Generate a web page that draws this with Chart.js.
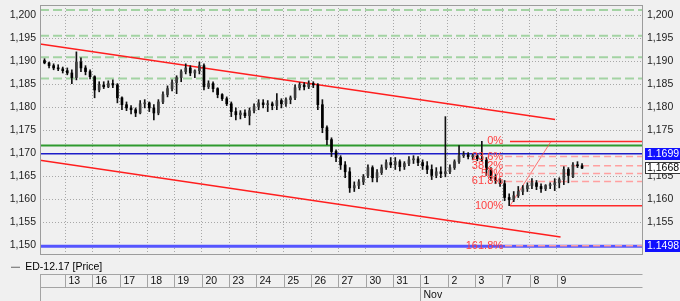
<!DOCTYPE html>
<html>
<head>
<meta charset="utf-8">
<script src="https://cdn.jsdelivr.net/npm/chart.js@4.4.0/dist/chart.umd.min.js"></script>
<style>
  html, body { margin: 0; padding: 0; background: #f0f0f0; }
</style>
</head>
<body>
<canvas id="chart" width="680" height="301"></canvas>
<script>
// day cells of the time table (first cell is the partial day before the 13th)
const dayLabels = ["13", "16", "17", "18", "19", "20", "23", "24", "25", "26", "27", "30", "31", "1", "2", "3", "7", "8", "9"];
const monthLabels = ["Nov"];
const monthStarts = [13];
const yTicks = [1.150, 1.155, 1.160, 1.165, 1.170, 1.175, 1.180, 1.185, 1.190, 1.195, 1.200];
const seriesName = "ED-12.17 [Price]";

// 4h bars, 6 per day, the first 5 belong to the day before the 13th
const barsPerDay = 6;
const opens = [
  1.1902, 1.1897, 1.1891, 1.1886, 1.1884,
  1.1880, 1.1875, 1.1865, 1.1899, 1.1886, 1.1878,
  1.1867, 1.1838, 1.1849, 1.1845, 1.1852, 1.1849,
  1.1821, 1.1806, 1.1799, 1.1795, 1.1788, 1.1808,
  1.1810, 1.1799, 1.1788, 1.1812, 1.1828, 1.1841,
  1.1854, 1.1865, 1.1878, 1.1886, 1.1875, 1.1880,
  1.1891, 1.1845, 1.1852, 1.1841, 1.1828, 1.1819,
  1.1808, 1.1791, 1.1784, 1.1788, 1.1782, 1.1793,
  1.1802, 1.1810, 1.1806, 1.1808, 1.1804, 1.1815,
  1.1808, 1.1817, 1.1821, 1.1843, 1.1849, 1.1845,
  1.1852, 1.1849, 1.1806, 1.1756, 1.1730, 1.1704,
  1.1691, 1.1675, 1.1660, 1.1625, 1.1630, 1.1638,
  1.1652, 1.1669, 1.1647, 1.1658, 1.1669, 1.1680,
  1.1675, 1.1682, 1.1671, 1.1678, 1.1686, 1.1688,
  1.1680, 1.1673, 1.1665, 1.1652, 1.1660, 1.1656,
  1.1660, 1.1669, 1.1682, 1.1695, 1.1697, 1.1693,
  1.1695, 1.1688, 1.1686, 1.1665, 1.1647, 1.1641,
  1.1634, 1.1604, 1.1599, 1.1608, 1.1617, 1.1623,
  1.1630, 1.1636, 1.1628, 1.1623, 1.1630, 1.1632,
  1.1636, 1.1643, 1.1665, 1.1652, 1.1675, 1.1673
];
const highs = [
  1.1906, 1.1899, 1.1895, 1.1893, 1.1888,
  1.1886, 1.1882, 1.1921, 1.1908, 1.1891, 1.1882,
  1.1869, 1.1856, 1.1856, 1.1858, 1.1860, 1.1852,
  1.1823, 1.1812, 1.1804, 1.1799, 1.1815, 1.1817,
  1.1812, 1.1806, 1.1817, 1.1834, 1.1847, 1.1860,
  1.1869, 1.1882, 1.1895, 1.1891, 1.1882, 1.1899,
  1.1895, 1.1858, 1.1856, 1.1843, 1.1830, 1.1823,
  1.1812, 1.1799, 1.1793, 1.1795, 1.1799, 1.1808,
  1.1817, 1.1817, 1.1815, 1.1812, 1.1830, 1.1819,
  1.1821, 1.1825, 1.1849, 1.1854, 1.1854, 1.1858,
  1.1856, 1.1852, 1.1817, 1.1760, 1.1734, 1.1708,
  1.1695, 1.1682, 1.1669, 1.1638, 1.1643, 1.1654,
  1.1675, 1.1673, 1.1665, 1.1675, 1.1686, 1.1691,
  1.1691, 1.1686, 1.1682, 1.1693, 1.1695, 1.1693,
  1.1686, 1.1682, 1.1675, 1.1669, 1.1671, 1.1780,
  1.1675, 1.1686, 1.1717, 1.1704, 1.1702, 1.1699,
  1.1697, 1.1726, 1.1691, 1.1669, 1.1654, 1.1645,
  1.1641, 1.1612, 1.1617, 1.1628, 1.1630, 1.1636,
  1.1645, 1.1641, 1.1634, 1.1632, 1.1636, 1.1645,
  1.1647, 1.1671, 1.1669, 1.1680, 1.1682, 1.1678
];
const lows = [
  1.1895, 1.1886, 1.1882, 1.1880, 1.1875,
  1.1871, 1.1852, 1.1860, 1.1878, 1.1871, 1.1862,
  1.1821, 1.1834, 1.1841, 1.1843, 1.1843, 1.1810,
  1.1795, 1.1793, 1.1786, 1.1780, 1.1786, 1.1799,
  1.1791, 1.1773, 1.1784, 1.1808, 1.1823, 1.1836,
  1.1830, 1.1856, 1.1873, 1.1869, 1.1865, 1.1873,
  1.1838, 1.1841, 1.1834, 1.1821, 1.1815, 1.1804,
  1.1780, 1.1773, 1.1775, 1.1778, 1.1762, 1.1788,
  1.1795, 1.1799, 1.1791, 1.1795, 1.1795, 1.1799,
  1.1802, 1.1808, 1.1817, 1.1838, 1.1838, 1.1841,
  1.1843, 1.1795, 1.1745, 1.1719, 1.1693, 1.1682,
  1.1665, 1.1647, 1.1615, 1.1617, 1.1623, 1.1632,
  1.1647, 1.1638, 1.1638, 1.1654, 1.1665, 1.1669,
  1.1665, 1.1662, 1.1665, 1.1673, 1.1678, 1.1673,
  1.1665, 1.1656, 1.1643, 1.1647, 1.1647, 1.1649,
  1.1656, 1.1665, 1.1678, 1.1691, 1.1688, 1.1686,
  1.1684, 1.1682, 1.1652, 1.1641, 1.1634, 1.1628,
  1.1597, 1.1586, 1.1595, 1.1604, 1.1610, 1.1617,
  1.1623, 1.1621, 1.1615, 1.1619, 1.1623, 1.1619,
  1.1625, 1.1632, 1.1636, 1.1647, 1.1669, 1.1667
];
const closes = [
  1.1897, 1.1891, 1.1886, 1.1884, 1.1880,
  1.1875, 1.1865, 1.1899, 1.1886, 1.1878, 1.1867,
  1.1838, 1.1849, 1.1845, 1.1852, 1.1849, 1.1821,
  1.1806, 1.1799, 1.1795, 1.1788, 1.1808, 1.1810,
  1.1799, 1.1788, 1.1812, 1.1828, 1.1841, 1.1854,
  1.1865, 1.1878, 1.1886, 1.1875, 1.1880, 1.1891,
  1.1845, 1.1852, 1.1841, 1.1828, 1.1819, 1.1808,
  1.1791, 1.1784, 1.1788, 1.1782, 1.1793, 1.1802,
  1.1810, 1.1806, 1.1808, 1.1804, 1.1815, 1.1808,
  1.1817, 1.1821, 1.1843, 1.1849, 1.1845, 1.1852,
  1.1849, 1.1806, 1.1756, 1.1730, 1.1704, 1.1691,
  1.1675, 1.1660, 1.1625, 1.1630, 1.1638, 1.1649,
  1.1669, 1.1647, 1.1658, 1.1669, 1.1680, 1.1675,
  1.1682, 1.1671, 1.1678, 1.1686, 1.1688, 1.1680,
  1.1673, 1.1665, 1.1652, 1.1660, 1.1656, 1.1660,
  1.1669, 1.1682, 1.1695, 1.1697, 1.1693, 1.1695,
  1.1688, 1.1686, 1.1665, 1.1647, 1.1641, 1.1634,
  1.1604, 1.1599, 1.1608, 1.1617, 1.1623, 1.1630,
  1.1636, 1.1628, 1.1623, 1.1630, 1.1632, 1.1636,
  1.1643, 1.1665, 1.1652, 1.1675, 1.1673, 1.1668
];

// drawn levels and tools (x in day units, 0 = start of the 13th)
const greenDashedLevels = [1.2012, 1.1956, 1.1909, 1.1863];
const greenLevel = 1.1717;
const blueLevels = [1.1699, 1.1498];
const lastPrice = 1.1668;
const upperTrend = [[-0.915, 1.1938], [17.93, 1.1774]];
const lowerTrend = [[-0.915, 1.1685], [18.13, 1.1518]];
const fibNames = ["0%", "23.6%", "38.2%", "50%", "61.8%", "100%", "161.8%"];
const fibValues = [1.1726, 1.1693, 1.1673, 1.1656, 1.1639, 1.1586, 1.1499];
const fibFrom = 16.1;
const fibAnchor = [[16.28, 1.1586], [17.78, 1.1726]];

const xMin = -0.915, xMax = 21.11;
const yMin = 1.1481, yMax = 1.2023;

const FONT = '"Liberation Sans", Arial, sans-serif';
const fmt = v => v.toFixed(3).replace(".", ",");

const barX = closes.map((_, i) => (i + 1.5) / barsPerDay - 1);

function segment(points, color, width, dash, order) {
  return {
    type: "line",
    data: points.map(p => ({ x: p[0], y: p[1] })),
    borderColor: color,
    borderWidth: width,
    borderDash: dash || [],
    pointRadius: 0,
    fill: false,
    tension: 0,
    order: order
  };
}

const datasets = [
  {
    type: "bar",
    label: seriesName,
    data: barX.map((x, i) => ({ x: x, y: [opens[i], closes[i]] })),
    backgroundColor: closes.map((c, i) => (c >= opens[i] ? "#3c3c3c" : "#000000")),
    barThickness: 2,
    minBarLength: 1,
    grouped: false,
    order: 0
  },
  {
    type: "bar",
    label: "wick",
    data: barX.map((x, i) => ({ x: x, y: [lows[i], highs[i]] })),
    backgroundColor: "#111111",
    barThickness: 1,
    grouped: false,
    order: 1
  }
];

greenDashedLevels.forEach(v => datasets.push(segment([[xMin, v], [xMax, v]], "#a3d3a3", 2, [9, 4], 8)));
datasets.push(segment([[xMin, greenLevel], [xMax, greenLevel]], "#2f9a2f", 2, null, 6));
datasets.push(segment([[xMin, blueLevels[0]], [xMax, blueLevels[0]]], "#1c1cc8", 1.5, null, 6));
datasets.push(segment([[xMin, blueLevels[1]], [xMax, blueLevels[1]]], "#5555ff", 3, null, 6));
datasets.push(segment(upperTrend, "#ff1e1e", 1.5, null, 5));
datasets.push(segment(lowerTrend, "#ff1e1e", 1.5, null, 5));
fibValues.forEach((v, i) => {
  const solid = fibNames[i] === "0%" || fibNames[i] === "100%";
  if (solid) {
    datasets.push(segment([[fibAnchor[0][0], v], [xMax, v]], "#ff2a2a", 1.5, null, 4));
  } else {
    datasets.push(segment([[fibFrom, v], [xMax, v]], "#ffa0a0", 1.5, [7, 4], 4));
  }
});
datasets.push(segment(fibAnchor, "rgba(255,70,70,0.75)", 1, null, 4));

// frame, fibonacci labels, price tags and the date table
const overlay = {
  id: "overlay",
  afterDraw(chart) {
    const { ctx, chartArea: a, scales } = chart;
    const x = scales.x, y = scales.y;
    ctx.save();

    ctx.strokeStyle = "#9c9c9c";
    ctx.lineWidth = 1;
    ctx.strokeRect(Math.round(a.left) + 0.5, Math.round(a.top) + 0.5,
      Math.round(a.right - a.left), Math.round(a.bottom - a.top));

    ctx.font = "11px " + FONT;
    ctx.textBaseline = "middle";
    ctx.textAlign = "right";
    ctx.fillStyle = "#ff4040";
    const lx = x.getPixelForValue(fibFrom) - 2;
    fibNames.forEach((n, i) => ctx.fillText(n, lx, y.getPixelForValue(fibValues[i])));

    ctx.font = "10.5px " + FONT;
    const tags = [
      { v: blueLevels[0], text: blueLevels[0].toFixed(4), bg: "#1010ff", fg: "#ffffff" },
      { v: lastPrice, text: lastPrice.toFixed(4).replace(".", ","), bg: "#ffffff", fg: "#000000", line: "#333333" },
      { v: blueLevels[1], text: blueLevels[1].toFixed(4), bg: "#1010ff", fg: "#ffffff" }
    ];
    ctx.textAlign = "left";
    tags.forEach(t => {
      const py = Math.round(y.getPixelForValue(t.v));
      const bx = Math.round(a.right) + 3;
      ctx.fillStyle = t.bg;
      ctx.fillRect(bx, py - 6, chart.width - bx, 12);
      if (t.line) {
        ctx.strokeStyle = t.line;
        ctx.strokeRect(bx + 0.5, py - 5.5, chart.width - bx, 11);
      }
      ctx.fillStyle = t.fg;
      ctx.fillText(t.text, bx + 2, py + 0.5);
    });

    const top = chart.height - 27, mid = chart.height - 14, bot = chart.height;
    const left = Math.round(a.left) + 0.5, right = Math.round(a.right) + 0.5;
    ctx.strokeStyle = "#a4a4a4";
    ctx.beginPath();
    ctx.moveTo(left, top + 0.5); ctx.lineTo(right, top + 0.5);
    ctx.moveTo(left, mid + 0.5); ctx.lineTo(right, mid + 0.5);
    ctx.moveTo(left, top); ctx.lineTo(left, bot);
    ctx.stroke();
    ctx.fillStyle = "#111111";
    dayLabels.forEach((d, i) => {
      const px = Math.round(x.getPixelForValue(i)) + 0.5;
      ctx.beginPath(); ctx.moveTo(px, top); ctx.lineTo(px, mid); ctx.stroke();
      ctx.fillText(d, px + 3, (top + mid) / 2 + 1);
    });
    monthStarts.forEach((m, k) => {
      const px = Math.round(x.getPixelForValue(m)) + 0.5;
      ctx.beginPath(); ctx.moveTo(px, mid); ctx.lineTo(px, bot); ctx.stroke();
      ctx.fillText(monthLabels[k], px + 3, (mid + bot) / 2 + 1);
    });
    ctx.restore();
  }
};

const yAxisBase = {
  type: "linear",
  min: yMin,
  max: yMax,
  afterBuildTicks: s => { s.ticks = yTicks.map(v => ({ value: v })); },
  ticks: { callback: v => fmt(v), color: "#222222", font: { size: 10.5, family: FONT } },
  border: { display: false, dash: [1, 2] }
};

new Chart(document.getElementById("chart"), {
  type: "line",
  data: { datasets: datasets },
  options: {
    responsive: false,
    animation: false,
    events: [],
    layout: { padding: { left: 3, top: 5, right: 0, bottom: 18.5 } },
    scales: {
      x: {
        type: "linear",
        min: xMin,
        max: xMax,
        offset: false,
        afterBuildTicks: s => { s.ticks = dayLabels.map((_, i) => ({ value: i })); },
        ticks: { display: false },
        grid: { color: "#a8a8a8", drawTicks: false, offset: false },
        border: { display: false, dash: [1, 2] },
        afterFit: s => { s.height = 0; s.paddingLeft = 0; s.paddingRight = 0; }
      },
      y: Object.assign({}, yAxisBase, {
        position: "left",
        ticks: Object.assign({}, yAxisBase.ticks, { padding: 4 }),
        grid: { color: "#a8a8a8", drawTicks: false },
        afterFit: s => { s.width = 37; s.paddingTop = 0; s.paddingBottom = 0; }
      }),
      y2: Object.assign({}, yAxisBase, {
        position: "right",
        ticks: Object.assign({}, yAxisBase.ticks, { padding: 5 }),
        grid: { display: false, drawTicks: false },
        afterFit: s => { s.width = 38; s.paddingTop = 0; s.paddingBottom = 0; }
      })
    },
    plugins: {
      tooltip: { enabled: false },
      legend: {
        display: true,
        position: "bottom",
        align: "start",
        labels: {
          boxWidth: 9,
          boxHeight: 1,
          padding: 8,
          color: "#000000",
          font: { size: 10.5, family: FONT },
          generateLabels: () => [{
            text: seriesName, fillStyle: "#666666", strokeStyle: "#666666",
            lineWidth: 0, hidden: false, datasetIndex: 0
          }]
        }
      }
    }
  },
  plugins: [overlay]
});
</script>
</body>
</html>
